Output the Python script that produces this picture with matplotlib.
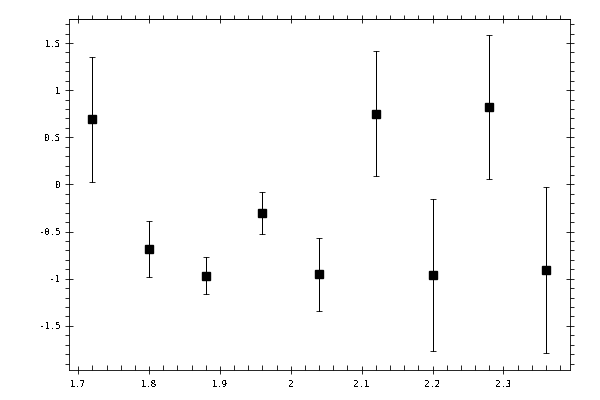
import matplotlib
matplotlib.use('Agg')
import matplotlib.pyplot as plt
from matplotlib.ticker import MultipleLocator, FuncFormatter

plt.rcParams['font.family'] = ['DejaVu Sans Mono']
plt.rcParams['text.antialiased'] = False
plt.rcParams['lines.antialiased'] = False

# values
x_vals = [1.72, 1.80, 1.88, 1.96, 2.04, 2.12, 2.20, 2.28, 2.36]
y_vals = [0.69, -0.685, -0.967, -0.30, -0.955, 0.752, -0.96, 0.82, -0.905]
y_err = [0.66, 0.30, 0.197, 0.222, 0.39, 0.66, 0.805, 0.762, 0.88]

LW = 0.6


def fmt(v, pos):
    return ('%g' % round(v, 6)).replace('\u2212', '-')


fig = plt.figure(figsize=(6, 4), dpi=100)
ax = fig.add_axes([0.115, 0.075, 0.835, 0.8775])

ax.errorbar(x_vals, y_vals, yerr=y_err, fmt='s', color='black',
            markersize=5.6, elinewidth=LW, capsize=2.4, capthick=LW,
            ecolor='black')

ax.set_xlim(1.687, 2.394)
ax.set_ylim(-1.968, 1.755)

for s in ax.spines.values():
    s.set_linewidth(LW)

ax.xaxis.set_major_locator(MultipleLocator(0.1))
ax.xaxis.set_minor_locator(MultipleLocator(0.02))
ax.yaxis.set_major_locator(MultipleLocator(0.5))
ax.yaxis.set_minor_locator(MultipleLocator(0.1))
ax.xaxis.set_major_formatter(FuncFormatter(fmt))
ax.yaxis.set_major_formatter(FuncFormatter(fmt))

ax.tick_params(axis='x', which='major', direction='inout', length=6,
               width=LW, labelsize=6.5, pad=4)
ax.tick_params(axis='x', which='minor', direction='in', length=3.5, width=LW)
ax.tick_params(axis='y', which='major', direction='inout', length=6,
               width=LW, labelsize=6.5, right=True, pad=3)
ax.tick_params(axis='y', which='minor', direction='out', length=3,
               width=LW, right=True)

top = ax.secondary_xaxis('top')
top.xaxis.set_major_locator(MultipleLocator(0.1))
top.xaxis.set_minor_locator(MultipleLocator(0.02))
top.tick_params(which='major', direction='inout', length=6, width=LW,
                labeltop=False)
top.tick_params(which='minor', direction='out', length=3, width=LW)
top.spines['top'].set_linewidth(LW)

fig.savefig('out.png', dpi=100)
